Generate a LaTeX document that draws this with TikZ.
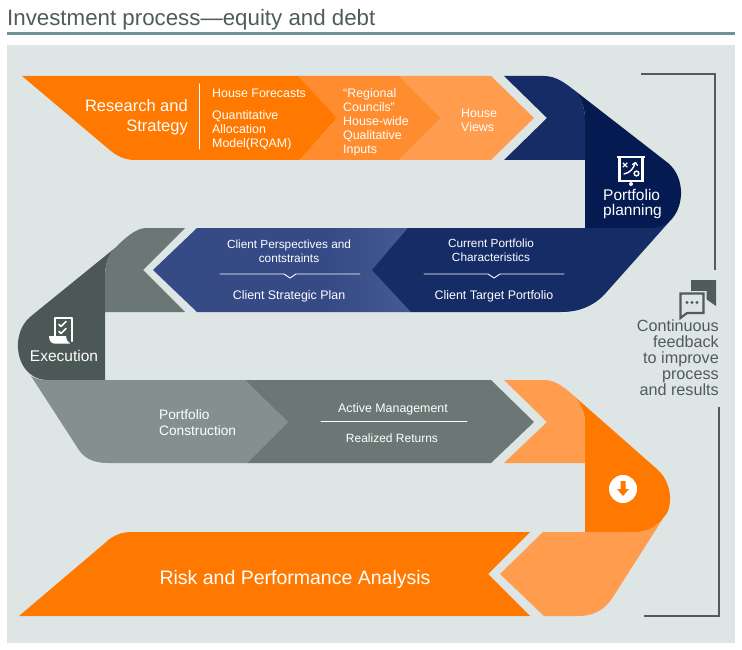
\documentclass[tikz,border=0pt]{standalone}
\usepackage{fontspec}
\setmainfont{Liberation Sans}
\definecolor{panel}{HTML}{DEE5E5}
\definecolor{rulecol}{HTML}{6F9299}
\definecolor{slate}{HTML}{4F5C5A}
\definecolor{orangeA}{HTML}{FF7900}
\definecolor{orangeB}{HTML}{FF8C2E}
\definecolor{orangeC}{HTML}{FF9C4E}
\definecolor{navyA}{HTML}{162C66}
\definecolor{navyB}{HTML}{041A50}
\definecolor{blueA}{HTML}{364B86}
\definecolor{blueB}{HTML}{465A94}
\definecolor{greyA}{HTML}{6A7775}
\definecolor{greyB}{HTML}{4C5856}
\definecolor{greyC}{HTML}{83908F}
\tikzset{
  big/.style={text=white,font=\fontsize{16.5}{19.5}\selectfont},
  mid/.style={text=white,font=\fontsize{15.5}{15.5}\selectfont},
  small/.style={text=white,font=\fontsize{12.4}{14}\selectfont},
  note/.style={text=white,font=\fontsize{11.8}{14}\selectfont},
  bracket/.style={draw=slate,line width=1.8pt,line cap=butt,line join=miter},
  divider/.style={draw=white,line width=0.9pt},
}
\begin{document}
\begin{tikzpicture}[x=1pt,y=-1pt,line join=round,line cap=round]
  \useasboundingbox (0,0) rectangle (742,650);
  \node[anchor=base west,inner sep=0,text=slate,font=\fontsize{22.3}{24}\selectfont] (title) at (7,26) {Investment process—equity and debt};
  \fill[rulecol] (7,32.5) rectangle (735,35);
  \fill[panel] (7,45) rectangle (735,643);

  % top band
  \fill[orangeA] (22,76)--(300,76)--(337,118)--(300,160)--(135,160) .. controls (122,160) and (114,154) .. (105,146)--cycle;
  \fill[orangeB] (298,76)--(399,76)--(441,118)--(399,160)--(300,160)--(337,118)--cycle;
  \fill[orangeC] (399,76)--(491,76)--(534,118)--(491,160)--(399,160)--(441,118)--cycle;
  \fill[navyA] (504,76)--(544,76) .. controls (556,76) and (565,83) .. (574,90) .. controls (581,97) and (585,108) .. (585,120)--(585,160)--(504,160)--(547,118)--cycle;

  % second band
  \fill[blueA] (153,270)--(197,228)--(412,228)--(412,312)--(197,312)--cycle;
  \shade[left color=blueA,right color=blueB] (330,228.6) rectangle (412,311.4);
  \fill[navyA] (408,228)--(650,228)--(669,222)--(604,295) .. controls (592,307) and (578,312) .. (561,312)--(411,312)--(372,270)--cycle;
  \fill[navyB] (574,90)--(668,163) .. controls (684,176) and (686,205) .. (670,221) .. controls (664,226) and (658,228) .. (648,228)--(585,228)--(585,120) .. controls (585,108) and (581,97) .. (574,90)--cycle;
  \fill[greyB] (115,248)--(30,317) .. controls (12,333) and (15,365) .. (33,376) .. controls (38,379) and (43,380) .. (48,380)--(105,380)--(105,277) .. controls (105,265) and (108,255) .. (115,248)--cycle;
  \fill[greyA] (185,228)--(146,228) .. controls (136,228) and (125,238) .. (115,248) .. controls (108,255) and (105,265) .. (105,277)--(105,312)--(185,312)--(143,270)--cycle;

  % third band
  \fill[greyC] (31,376) .. controls (36,379) and (41,380) .. (48,380)--(245,380)--(288,422)--(247,463)--(108,463) .. controls (93,463) and (83,458) .. (77,447)--cycle;
  \fill[greyA] (245,380)--(491,380)--(534,422)--(491,463)--(247,463)--(288,422)--cycle;
  \fill[orangeA] (574,396)--(658,470) .. controls (674,485) and (672,510) .. (664,517) .. controls (656,527) and (648,532) .. (636,532)--(585,532)--(585,424) .. controls (585,414) and (581,403) .. (574,396)--cycle;
  \fill[orangeC] (504,380)--(544,380) .. controls (556,380) and (565,388) .. (574,396) .. controls (581,403) and (585,414) .. (585,424)--(585,463)--(504,463)--(547,422)--cycle;

  % bottom band
  \fill[orangeC] (543,532)--(636,532) .. controls (648,532) and (656,527) .. (664,517)--(611,600) .. controls (603,611) and (592,616) .. (578,616)--(544,616)--(500,574)--cycle;
  \fill[orangeA] (19,616)--(105,543) .. controls (113,535) and (122,532) .. (132,532)--(530,532)--(488,574)--(530,616)--cycle;

  % bracket on the right
  \draw[bracket] (641,74)--(715,74)--(715,270);
  \draw[bracket] (719,407)--(719,616)--(644,616);

  % thin rules
  \draw[divider,line width=1.3pt] (199.5,84)--(199.5,149);
  \draw[divider] (220,274)--(284,274)--(290,278)--(296,274)--(360,274);
  \draw[divider] (424,274)--(488,274)--(494,278)--(500,274)--(564,274);
  \draw[divider] (321,421)--(467,421);

  % board icon
  \draw[white,line width=2.2pt,line join=miter] (619.5,158)--(619.5,181)--(642.5,181)--(642.5,158);
  \draw[white,line width=2.6pt,line cap=butt] (617,157)--(645,157);
  \fill[white] (631,184) circle (2);
  \draw[white,line width=1.4pt] (623,163)--(627,167) (627,163)--(623,167);
  \draw[white,line width=1.4pt] (624,174) .. controls (630,173) and (634,168) .. (635,163);
  \draw[white,line width=1.3pt] (632.5,164.5)--(635.5,162.5)--(637.5,165.5);
  \draw[white,line width=1.4pt] (636.5,173.5) circle (2.4);

  % scroll icon
  \draw[white,line width=2.4pt,line join=round] (55,337)--(55,318)--(72,318)--(72,341);
  \fill[white] (49,336)--(66,336) .. controls (66,339) and (67,342) .. (70,343.5)--(54,343.5) .. controls (51,343.5) and (49,340) .. (49,336)--cycle;
  \draw[white,line width=1.6pt] (59,324.5)--(61,326.5)--(66,321.5);
  \draw[white,line width=1.6pt] (59,331.5)--(61,333.5)--(66,328.5);

  % speech bubbles
  \fill[slate] (691,280)--(716,280)--(716,306)--(706,299)--(691,299)--cycle;
  \fill[panel] (677,291)--(706.5,291)--(706.5,316)--(677,319)--cycle;
  \draw[slate,line width=2.2pt,line join=miter] (680.5,293.5)--(703.5,293.5)--(703.5,313)--(687,313)--(680.5,318)--cycle;
  \foreach \i in {687,692,697}{\fill[slate] (\i,302.5) circle (1.7);}

  % arrow in circle
  \fill[white] (623,489) circle (14);
  \fill[orangeA] (620.5,481)--(625.5,481)--(625.5,489)--(629,489)--(623,496)--(617,489)--(620.5,489)--cycle;

  % labels
  \node[big,align=right,anchor=east,inner sep=0] (research) at (188,117) {Research and\\Strategy};
  \node[small,anchor=west,inner sep=0] (forecasts) at (212,93) {House Forecasts};
  \node[small,align=left,anchor=west,inner sep=0] (model) at (212,130) {Quantitative\\Allocation\\Model(RQAM)};
  \node[small,align=left,anchor=west,inner sep=0] (councils) at (343,122) {“Regional\\Councils”\\House-wide\\Qualitative\\Inputs};
  \node[small,align=left,anchor=west,inner sep=0] (views) at (461,120) {House\\Views};
  \node[mid,align=left,anchor=west,inner sep=0] (planning) at (603,204) {Portfolio\\planning};
  \node[note,align=center,inner sep=0] (current) at (491,250) {Current Portfolio\\Characteristics};
  \node[small,inner sep=0] (target) at (494,296) {Client Target Portfolio};
  \node[note,align=center,inner sep=0] (perspectives) at (289,251) {Client Perspectives and\\contstraints};
  \node[small,inner sep=0] (strategic) at (289,296) {Client Strategic Plan};
  \node[mid,inner sep=0] (execution) at (64,356) {Execution};
  \node[small,font=\fontsize{13.7}{16}\selectfont,align=left,anchor=west,inner sep=0] (construction) at (159,423) {Portfolio\\Construction};
  \node[small,inner sep=0] (active) at (393,409) {Active Management};
  \node[note,font=\fontsize{12}{14}\selectfont,inner sep=0] (realized) at (392,438) {Realized Returns};
  \node[big,font=\fontsize{19.5}{21}\selectfont,inner sep=0] (risk) at (295,579) {Risk and Performance Analysis};
  \node[text=slate,font=\fontsize{16.2}{16}\selectfont,align=right,anchor=east,inner sep=0] (feedback) at (719,358) {Continuous\\feedback\\to improve\\process\\and results};
\end{tikzpicture}
\end{document}
